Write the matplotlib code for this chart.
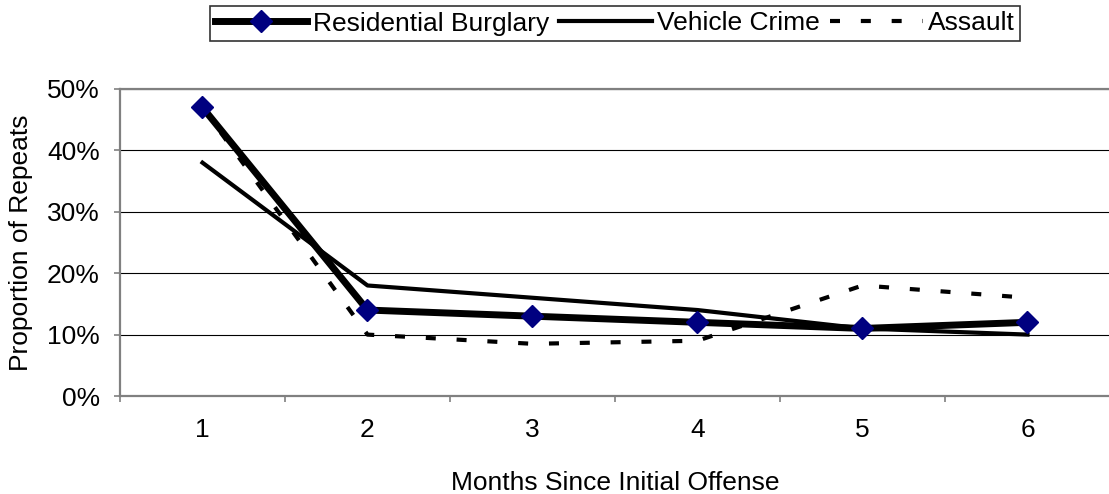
import numpy as np
import matplotlib
matplotlib.use('Agg')
import matplotlib.pyplot as plt
from matplotlib.ticker import PercentFormatter, FixedLocator

plt.rcParams['font.family'] = ['Liberation Sans', 'DejaVu Sans']

months = [1, 2, 3, 4, 5, 6]
burglary = [47, 14, 13, 12, 11, 12]
vehicle = [38, 18, 16, 14, 11, 10]
assault = [47, 10, 8.5, 9, 18, 16]

fs = 19
grey = '#808080'

fig = plt.figure(figsize=(11.09, 4.94), dpi=100)
ax = fig.add_axes([120 / 1109, 98 / 494, 990 / 1109, 307 / 494])

ax.plot(months, burglary, color='black', lw=5, marker='D', markersize=11.5,
        markerfacecolor='#000080', markeredgecolor='#000080',
        label='Residential Burglary', zorder=4)
ax.plot(months, vehicle, color='black', lw=3, label='Vehicle Crime', zorder=3)
ax.plot(months, assault, color='black', lw=3, dashes=(2.4, 5),
        label='Assault', zorder=3)

ax.set_xlim(0.5, 6.5)
ax.set_ylim(0, 50)

# category boundaries get the tick marks, labels sit at the categories
ax.xaxis.set_major_locator(FixedLocator(np.arange(0.5, 7, 1)))
ax.xaxis.set_minor_locator(FixedLocator(months))
ax.set_xticklabels([], minor=False)
ax.set_xticklabels([str(m) for m in months], minor=True)
ax.tick_params(axis='x', which='major', direction='out', length=4.5,
               width=1.2, color=grey)
ax.tick_params(axis='x', which='minor', length=0, pad=16, labelsize=fs)

ax.set_yticks(np.arange(0, 51, 10))
ax.yaxis.set_major_formatter(PercentFormatter(decimals=0))
ax.tick_params(axis='y', direction='out', length=4.5, width=1.2,
               color=grey, pad=10, labelsize=fs)

ax.grid(axis='y', color='black', lw=0.8)
ax.set_axisbelow(True)
for side in ['left', 'bottom', 'top']:
    ax.spines[side].set_color(grey)
    ax.spines[side].set_linewidth(1.6)
ax.spines['right'].set_visible(False)

ax.set_ylabel('Proportion of Repeats', fontsize=fs)
ax.yaxis.set_label_coords(-0.088, 0.5)
ax.set_xlabel('Months Since Initial Offense', fontsize=fs)
ax.xaxis.set_label_coords(0.5, -0.245)

leg = ax.legend(loc='center', bbox_to_anchor=(615 / 1109, 1 - 23.5 / 494),
                bbox_transform=fig.transFigure, ncol=3, fontsize=fs,
                frameon=True, fancybox=False, handlelength=3.5,
                handletextpad=0.2, columnspacing=0.4, borderpad=0.2,
                borderaxespad=0)
leg.get_frame().set_edgecolor('black')
leg.get_frame().set_linewidth(1.2)

fig.savefig('out.png', dpi=100)
